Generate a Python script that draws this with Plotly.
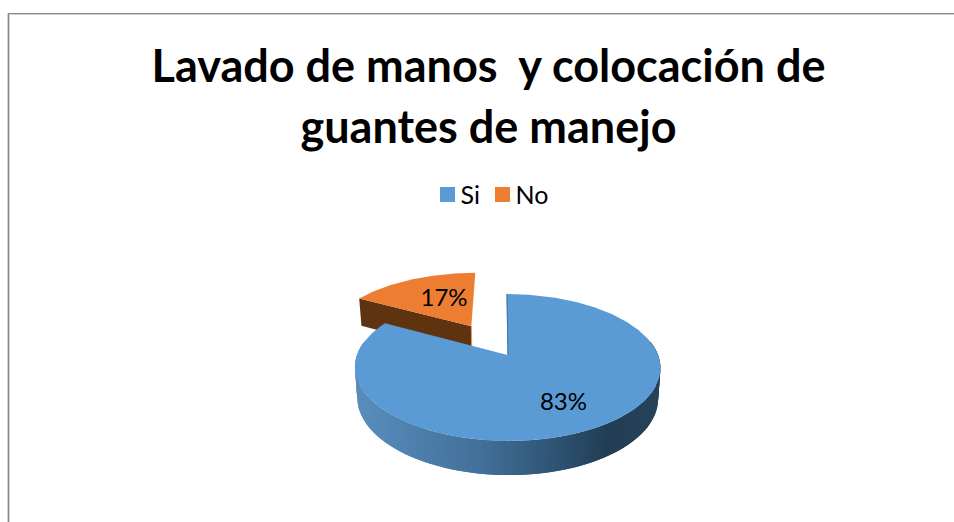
import numpy as np
import plotly.graph_objects as go

# Chart content
TITLE_LINES = ["Lavado de manos\u00a0 y colocación de", "guantes de manejo"]
CATEGORIES = ["Si", "No"]
VALUES = [83, 17]
EXPLODE = [0.0, 0.5]
COLORS = ["#5B9BD5", "#ED7D31"]

FONT = "Lato"

# Tilted-disc projection: unit disc coordinates to canvas pixels
CX, CY = 507.5, 355.0
SCALE_X, SCALE_Y = 150.5, 71.4
TILT = 0.17
SHEAR = 1.2
DEPTH = 29.9
BASE_SHRINK = 0.985


def project(u, v):
    u, v = np.asarray(u, float), np.asarray(v, float)
    w = 1 + TILT * v
    return CX + (SCALE_X * u - SHEAR * v) / w, CY - SCALE_Y * v / w


def project_base(u, v):
    u, v = np.asarray(u, float), np.asarray(v, float)
    x, y = project(u, v)
    w = 1 + TILT * v
    return CX + (x - CX) * BASE_SHRINK, y + DEPTH * w ** -0.7


def mix(stops, t):
    xs = [s[0] for s in stops]
    return "rgb(%d,%d,%d)" % tuple(
        np.interp(t, xs, [s[1][i] for s in stops]) for i in range(3)
    )


WALL_STOPS = [
    (0.00, (0x57, 0x8C, 0xBB)),
    (0.40, (0x42, 0x70, 0x99)),
    (0.70, (0x2C, 0x4F, 0x6E)),
    (0.85, (0x23, 0x3D, 0x55)),
    (1.00, (0x27, 0x42, 0x59)),
]

fig = go.Figure()


def polygon(x, y, color):
    fig.add_trace(go.Scatter(
        x=list(x), y=list(y), mode="lines", fill="toself", fillcolor=color,
        line=dict(color=color, width=0), showlegend=False, hoverinfo="skip",
    ))


def stroke(x, y, color):
    fig.add_trace(go.Scatter(
        x=list(x), y=list(y), mode="lines", line=dict(color=color, width=1),
        showlegend=False, hoverinfo="skip",
    ))


# Slice angles run clockwise from twelve o'clock
total = sum(VALUES)
starts = np.cumsum([0] + VALUES[:-1]) / total * 2 * np.pi
ends = np.cumsum(VALUES) / total * 2 * np.pi


def slice_origin(i):
    mid = (starts[i] + ends[i]) / 2
    return EXPLODE[i] * np.sin(mid), EXPLODE[i] * np.cos(mid)


# Second slice: pulled out, drawn behind the first
u0, v0 = slice_origin(1)
t = np.linspace(starts[1], ends[1], 80)
ou, ov = u0 + np.sin(t), v0 + np.cos(t)

ax, ay = project(u0, v0)
bx, by = project_base(u0, v0)
lx, ly = project(ou[0], ov[0])
lbx, lby = project_base(ou[0], ov[0])
polygon([lx, ax, bx, lbx, lx], [ly, ay, by, lby, ly], "#5F3210")
stroke([ax, bx], [ay, by], "#EE9A63")
x, y = project(np.r_[u0, ou, u0], np.r_[v0, ov, v0])
polygon(x, y, COLORS[1])

# First slice: curved outer wall as overlapping shaded strips, then the top
t = np.linspace(starts[0], ends[0], 600)
wall_t = t[np.cos(t) < 0.2]
edges = np.linspace(wall_t[0], wall_t[-1], 121)
wall_x0, wall_x1 = project(np.sin(edges), np.cos(edges))[0][[-1, 0]]
for k in range(len(edges) - 1, 0, -1):
    seg = np.linspace(edges[k - 1 if k < 2 else k - 2], edges[k], 3)
    tx, ty = project(np.sin(seg), np.cos(seg))
    bx2, by2 = project_base(np.sin(seg), np.cos(seg))
    shade = mix(WALL_STOPS, (tx[-1] - wall_x0) / (wall_x1 - wall_x0))
    polygon(np.r_[tx, bx2[::-1], tx[0]], np.r_[ty, by2[::-1], ty[0]], shade)

x, y = project(np.r_[0, np.sin(t), 0], np.r_[0, np.cos(t), 0])
polygon(x, y, COLORS[0])

# Sliver of the cut face along twelve o'clock
x, y = project([0, 0], [1, 0])
stroke(x + 0.5, y, "#4A7299")

# Percentage labels, placed on the disc
LABEL_DISC = [(0.328, -0.617), (-0.224, 0.464)]
for i, (lu, lv) in enumerate(LABEL_DISC):
    ou0, ov0 = slice_origin(i)
    tx, ty = project(lu + ou0, lv + ov0)
    fig.add_trace(go.Scatter(
        x=[float(tx)], y=[float(ty)], mode="text",
        text=[f"{round(VALUES[i] / total * 100)}%"],
        textposition="middle center",
        textfont=dict(family=FONT, size=24, color="#000000"),
        showlegend=False, hoverinfo="skip",
    ))

# Legend row: colour swatch with the category name beside it
SWATCH_Y = 194.5
NAME_Y = 197.5
SWATCH_X = [447.5, 502.5]
NAME_GAP = 13.0
for name, color, sx in zip(CATEGORIES, COLORS, SWATCH_X):
    fig.add_trace(go.Scatter(
        x=[sx], y=[SWATCH_Y], mode="markers", name=name,
        marker=dict(symbol="square", size=15, color=color),
        showlegend=False, hoverinfo="name",
    ))
    fig.add_trace(go.Scatter(
        x=[sx + NAME_GAP], y=[NAME_Y], mode="text",
        text=[name], textposition="middle right",
        textfont=dict(family=FONT, size=25, color="#000000"),
        showlegend=False, hoverinfo="skip",
    ))

title_text = "<br>".join(
    f'<span style="font-size:45px">{line}</span>' for line in TITLE_LINES
)


def hline(y, color):
    return dict(type="line", xref="paper", yref="paper",
                x0=8 / 954, x1=1, y0=1 - y / 522, y1=1 - y / 522,
                line=dict(color=color, width=1))


def vline(x, color):
    return dict(type="line", xref="paper", yref="paper",
                x0=x / 954, x1=x / 954, y0=0, y1=1 - 13 / 522,
                line=dict(color=color, width=1))


fig.update_layout(
    width=954,
    height=522,
    margin=dict(l=0, r=0, t=0, b=0),
    paper_bgcolor="#FFFFFF",
    plot_bgcolor="#FFFFFF",
    showlegend=False,
    xaxis=dict(range=[0, 954], visible=False, fixedrange=True),
    yaxis=dict(range=[522, 0], visible=False, fixedrange=True),
    title=dict(
        text=title_text,
        x=488.5 / 954, xanchor="center",
        y=1 - 82 / 522, yanchor="middle",
        font=dict(family=FONT, size=47, color="#000000", weight="bold"),
    ),
    shapes=[
        hline(14.5, "#CFCFCF"),
        vline(7.5, "#D4D4D4"),
        vline(9.5, "#D4D4D4"),
        hline(13.5, "#868686"),
        vline(8.5, "#868686"),
    ],
)

fig.write_html("out.html", config=dict(displayModeBar=False))
